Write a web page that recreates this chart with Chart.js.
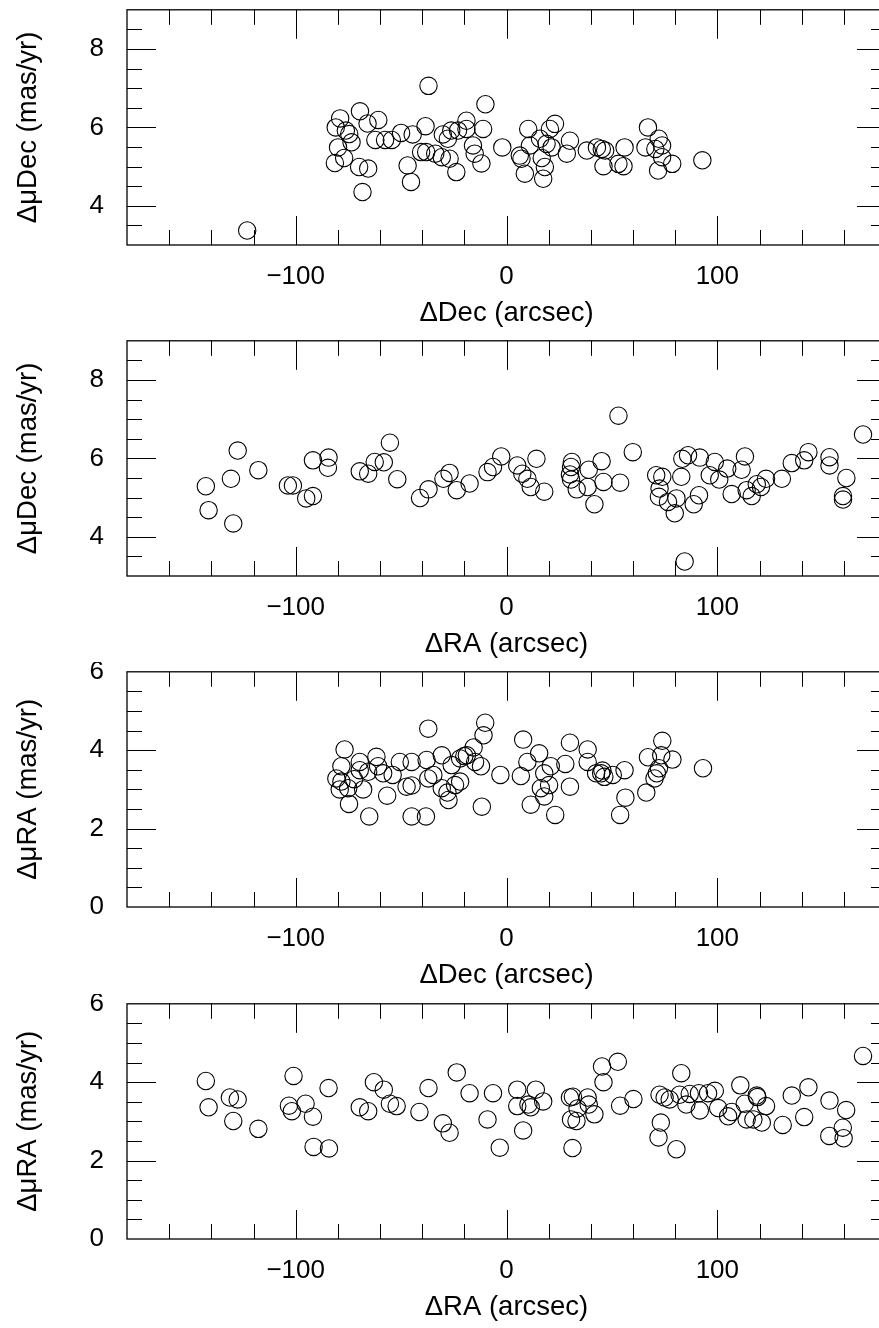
<!DOCTYPE html>
<html>
<head>
<meta charset="utf-8">
<title>Proper motion residuals</title>
<script src="https://cdn.jsdelivr.net/npm/chart.js@4.4.0/dist/chart.umd.min.js"></script>
<style>
html, body { margin: 0; padding: 0; background: #fff; width: 879px; height: 1328px; overflow: hidden; }
.panel { position: absolute; left: 0; width: 900px; height: 331px; }
</style>
</head>
<body>
<div class="panel" style="top:0px"><canvas id="p1" width="900" height="331"></canvas></div>
<div class="panel" style="top:331px"><canvas id="p2" width="900" height="331"></canvas></div>
<div class="panel" style="top:662px"><canvas id="p3" width="900" height="331"></canvas></div>
<div class="panel" style="top:994px"><canvas id="p4" width="900" height="331"></canvas></div>
<script>
// tick labels
const xTickValues = [-100, 0, 100];
const pmDecTicks = [4, 6, 8];
const pmRaTicks = [0, 2, 4, 6];

// panel 1: dDec (arcsec) vs d mu Dec (mas/yr)
const p1Dec = [-123.0, -37.0, -10.0, -78.9, -69.5, -81.0, -76.2, -73.5, -79.9, -81.4,
  -77.0, -69.9, -65.6, -68.3, -46.9, -45.3, -65.9, -60.8, -62.2, -57.6,
  -54.4, -50.0, -44.5, -38.4, -38.1, -33.8, -30.7, -27.0, -23.8, -30.2,
  -26.2, -23.0, -19.0, -27.8, -19.0, -11.1, -15.9, -15.1, -11.9, -2.0,
  10.3, 20.6, 23.0, 15.9, 11.1, 19.0, 21.4, 6.3, 7.1, 16.7,
  18.2, 8.7, 17.4, 30.1, 28.6, 38.1, 42.9, 45.2, 46.8, 46.0,
  53.1, 55.5, 56.0, 67.1, 65.9, 70.6, 72.2, 73.8, 73.8, 71.9,
  78.6, 92.9, -40.5, -74.6];
const p1PmDec = [3.37, 7.06, 6.59, 6.23, 6.41, 6.00, 5.92, 5.62, 5.49, 5.09,
  5.22, 4.99, 4.95, 4.35, 5.03, 4.61, 6.10, 6.19, 5.68, 5.68,
  5.68, 5.86, 5.82, 6.03, 5.37, 5.33, 5.24, 5.20, 4.86, 5.82,
  5.92, 5.92, 5.96, 5.71, 6.17, 5.96, 5.54, 5.33, 5.08, 5.49,
  5.96, 5.96, 6.09, 5.71, 5.54, 5.58, 5.49, 5.28, 5.20, 5.22,
  4.99, 4.82, 4.69, 5.66, 5.33, 5.41, 5.49, 5.45, 5.41, 5.01,
  5.07, 5.01, 5.49, 6.00, 5.49, 5.45, 5.71, 5.54, 5.24, 4.90,
  5.07, 5.16, 5.37, 5.83];

// panel 2: dRA (arcsec) vs d mu Dec (mas/yr)
const p2Ra = [-142.6, -141.3, -130.7, -127.5, -129.6, -117.7, -103.7, -101.3, -95.0, -91.8,
  -91.8, -84.4, -84.7, -69.6, -65.6, -62.5, -58.2, -55.3, -51.8, -41.0,
  -37.0, -29.9, -27.0, -23.6, -17.5, -9.0, -6.4, -2.5,
  5.1, 7.5, 9.9, 11.5, 14.2, 17.9, 31.0, 30.6, 30.1, 30.6,
  33.3, 39.0, 38.5, 41.7, 45.1, 46.0, 53.1, 53.9, 59.9, 71.0,
  73.9, 72.6, 72.3, 76.6, 79.8, 80.6, 82.9, 83.4, 86.1, 84.5,
  88.8, 91.3, 91.7, 96.4, 98.8, 100.9, 104.7, 106.8, 111.5, 113.1,
  113.9, 116.3, 118.7, 120.7, 123.1, 130.6, 135.3, 141.2, 143.2, 153.2,
  153.2, 161.2, 159.6, 159.6, 169.1];
const p2PmDec = [5.29, 4.68, 5.48, 6.20, 4.34, 5.70, 5.31, 5.31, 4.98, 5.04,
  5.95, 6.02, 5.76, 5.67, 5.61, 5.91, 5.90, 6.40, 5.47, 4.99,
  5.21, 5.48, 5.63, 5.19, 5.36, 5.65, 5.78, 6.05,
  5.82, 5.61, 5.48, 5.27, 5.99, 5.15, 5.91, 5.78, 5.59, 5.46,
  5.21, 5.71, 5.27, 4.83, 5.93, 5.40, 7.09, 5.38, 6.16, 5.57,
  5.53, 5.23, 5.02, 4.89, 4.60, 4.98, 5.53, 5.99, 6.08, 3.37,
  4.83, 5.06, 6.02, 5.57, 5.91, 5.46, 5.74, 5.09, 5.71, 6.05,
  5.19, 5.04, 5.34, 5.27, 5.48, 5.48, 5.88, 5.95, 6.16, 6.03,
  5.82, 5.50, 5.04, 4.95, 6.61];

// panel 3: dDec (arcsec) vs d mu RA (mas/yr)
const p3Dec = [-76.8, -37.1, -10.1, -10.9, -15.6, -18.8, -22.0, -14.9, -12.1, -2.9,
  -30.7, -26.0, -37.9, -45.0, -50.6, -61.7, -60.9, -58.5, -54.0, -69.6,
  -69.6, -65.6, -78.3, -80.7, -78.3, -79.1, -75.1, -74.7, -68.0, -72.3,
  -65.1, -56.6, -47.4, -45.0, -45.0, -38.2, -37.1, -34.7, -30.7, -28.0,
  -27.5, -24.4, -22.0, -11.7, -20.0,
  7.9, 6.8, 9.9, 15.5, 17.9, 21.0, 20.2, 16.3, 17.9, 11.5,
  23.1, 27.9, 30.1, 30.1, 38.5, 38.5, 42.5, 44.9, 46.4, 45.5,
  50.4, 56.0, 56.4, 53.9, 66.3, 67.1, 73.9, 73.4, 78.7, 72.3,
  71.3, 70.2, 93.2];
const p3PmRa = [4.02, 4.55, 4.70, 4.38, 4.07, 3.87, 3.79, 3.70, 3.59, 3.37,
  3.87, 3.62, 3.75, 3.70, 3.70, 3.83, 3.59, 3.41, 3.37, 3.70,
  3.49, 3.45, 3.59, 3.28, 3.20, 3.00, 3.03, 2.63, 3.00, 3.26,
  2.31, 2.84, 3.07, 3.10, 2.31, 2.31, 3.28, 3.37, 3.03, 2.92,
  2.73, 3.11, 3.20, 2.56, 3.85,
  4.27, 3.34, 3.70, 3.92, 3.41, 3.59, 3.11, 3.03, 2.82, 2.61,
  2.35, 3.65, 4.19, 3.07, 4.02, 3.70, 3.41, 3.41, 3.32, 3.48,
  3.37, 3.49, 2.79, 2.35, 2.92, 3.82, 4.24, 3.87, 3.76, 3.54,
  3.41, 3.28, 3.54];

// panel 4: dRA (arcsec) vs d mu RA (mas/yr)
const p4Ra = [-142.6, -141.3, -131.2, -127.5, -129.6, -117.7, -101.0, -103.2, -101.8, -95.3,
  -91.8, -91.5, -84.4, -84.2, -69.6, -65.6, -62.9, -58.2, -55.3, -52.1,
  -41.3, -37.0, -30.2, -27.0, -23.6, -17.5, -9.0, -6.4, -3.2,
  5.1, 5.1, 10.4, 11.5, 13.9, 17.4, 7.9, 30.1, 31.5, 38.5,
  39.0, 33.7, 30.6, 33.2, 41.7, 31.3, 45.3, 52.8, 46.0, 53.9,
  60.2, 72.6, 75.0, 77.4, 73.2, 72.1, 80.6, 82.9, 82.1, 85.3,
  86.9, 91.3, 91.7, 95.6, 98.8, 100.4, 105.1, 106.8, 110.9, 113.0,
  113.9, 117.1, 118.7, 119.0, 121.1, 123.1, 131.0, 135.3, 141.2, 143.2,
  153.2, 153.1, 161.1, 159.5, 159.9, 169.1];
const p4PmRa = [4.03, 3.36, 3.61, 3.56, 3.01, 2.81, 4.16, 3.40, 3.26, 3.45,
  3.12, 2.35, 3.85, 2.31, 3.36, 3.26, 4.00, 3.81, 3.45, 3.39,
  3.24, 3.85, 2.95, 2.71, 4.25, 3.72, 3.05, 3.72, 2.33,
  3.81, 3.39, 3.43, 3.36, 3.81, 3.51, 2.77, 3.61, 3.63, 3.61,
  3.43, 3.33, 3.05, 3.01, 3.18, 2.32, 4.40, 4.52, 4.00, 3.40,
  3.57, 3.68, 3.61, 3.56, 2.97, 2.59, 2.29, 4.23, 3.68, 3.43,
  3.70, 3.72, 3.28, 3.72, 3.78, 3.34, 3.13, 3.24, 3.92, 3.45,
  3.05, 3.05, 3.66, 3.62, 2.97, 3.39, 2.91, 3.66, 3.11, 3.87,
  3.53, 2.63, 3.29, 2.84, 2.57, 4.67];

const FONT = 'Liberation Sans, Arial, Helvetica, sans-serif';

function fmt(v) {
    return v < 0 ? '\u2212' + Math.abs(v) : String(v);
}

// frame box with inward ticks on all four sides
const frameTicks = {
    id: 'frameTicks',
    afterDatasetsDraw(chart) {
        const { ctx, chartArea: a, scales: { x, y } } = chart;
        ctx.save();
        ctx.strokeStyle = '#000';
        ctx.lineWidth = 1;
        ctx.beginPath();
        for (let v = x.min + 20; v < x.max; v += 20) {
            const px = Math.round(x.getPixelForValue(v)) + 0.5;
            const len = v % 100 === 0 ? 29 : 15;
            ctx.moveTo(px, a.bottom); ctx.lineTo(px, a.bottom - len);
            ctx.moveTo(px, a.top); ctx.lineTo(px, a.top + len);
        }
        for (let k = y.min * 2 + 1; k < y.max * 2; k++) {
            const v = k / 2;
            const py = Math.round(y.getPixelForValue(v)) + 0.5;
            const len = v % 2 === 0 ? 29 : 15;
            ctx.moveTo(a.left, py); ctx.lineTo(a.left + len, py);
            ctx.moveTo(a.right, py); ctx.lineTo(a.right - len, py);
        }
        ctx.stroke();
        ctx.lineWidth = 1.3;
        ctx.strokeRect(a.left, a.top, a.right - a.left, a.bottom - a.top);
        ctx.restore();
    }
};

function makePanel(id, xs, ys, yMin, yMax, yTicks, xTitle, yTitle) {
    const points = xs.map((v, i) => ({ x: v, y: ys[i] }));
    new Chart(document.getElementById(id), {
        type: 'scatter',
        data: {
            datasets: [{
                data: points,
                pointRadius: 8.7,
                pointHoverRadius: 8.7,
                borderColor: '#000',
                borderWidth: 1.1,
                backgroundColor: 'rgba(0,0,0,0)'
            }]
        },
        options: {
            responsive: false,
            animation: false,
            events: [],
            layout: { padding: { top: 8, right: 14, left: 0, bottom: 0 } },
            plugins: { legend: { display: false }, tooltip: { enabled: false } },
            scales: {
                x: {
                    type: 'linear',
                    min: -180,
                    max: 180,
                    grid: { display: false },
                    border: { display: false },
                    afterBuildTicks: s => { s.ticks = xTickValues.map(v => ({ value: v })); },
                    afterFit: s => {
                        s.height = 86;
                        s.paddingLeft = 0; s.paddingRight = 0;
                        s.paddingTop = 0; s.paddingBottom = 0;
                    },
                    ticks: {
                        padding: 8,
                        color: '#000',
                        autoSkip: false,
                        maxRotation: 0,
                        font: { family: FONT, size: 26 },
                        callback: v => fmt(v)
                    },
                    title: {
                        display: true,
                        text: xTitle,
                        color: '#000',
                        font: { family: FONT, size: 27.5 },
                        padding: { top: 0, bottom: 1 }
                    }
                },
                y: {
                    type: 'linear',
                    min: yMin,
                    max: yMax,
                    grid: { display: false },
                    border: { display: false },
                    afterBuildTicks: s => { s.ticks = yTicks.map(v => ({ value: v })); },
                    afterFit: s => {
                        s.width = 127;
                        s.paddingLeft = 0; s.paddingRight = 0;
                        s.paddingTop = 0; s.paddingBottom = 0;
                    },
                    ticks: {
                        padding: 15,
                        color: '#000',
                        autoSkip: false,
                        font: { family: FONT, size: 26 },
                        callback: v => fmt(v)
                    },
                    title: {
                        display: true,
                        text: yTitle,
                        color: '#000',
                        font: { family: FONT, size: 27.5 },
                        padding: { top: 12, bottom: 0 }
                    }
                }
            }
        },
        plugins: [frameTicks]
    });
}

makePanel('p1', p1Dec, p1PmDec, 3, 9, pmDecTicks, '\u0394Dec (arcsec)', '\u0394\u03bcDec (mas/yr)');
makePanel('p2', p2Ra, p2PmDec, 3, 9, pmDecTicks, '\u0394RA (arcsec)', '\u0394\u03bcDec (mas/yr)');
makePanel('p3', p3Dec, p3PmRa, 0, 6, pmRaTicks, '\u0394Dec (arcsec)', '\u0394\u03bcRA (mas/yr)');
makePanel('p4', p4Ra, p4PmRa, 0, 6, pmRaTicks, '\u0394RA (arcsec)', '\u0394\u03bcRA (mas/yr)');
</script>
</body>
</html>
